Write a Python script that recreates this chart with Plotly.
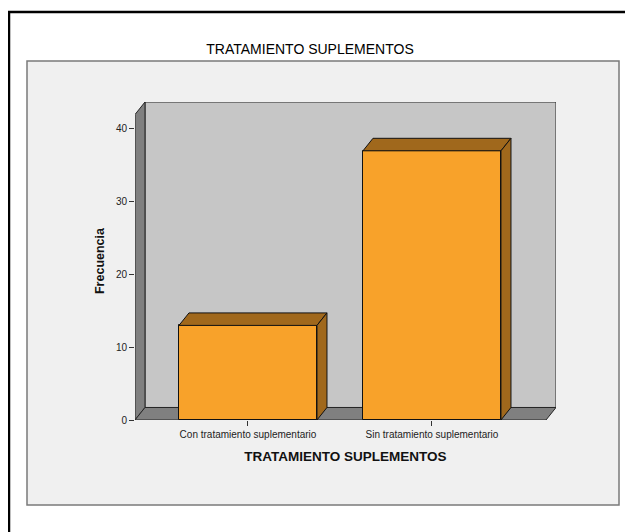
import plotly.graph_objects as go

# datos
categorias = ["Con tratamiento suplementario", "Sin tratamiento suplementario"]
frecuencias = [13, 37]
y_ticks = [0, 10, 20, 30, 40]

titulo = "TRATAMIENTO SUPLEMENTOS"
titulo_x = "TRATAMIENTO SUPLEMENTOS"
titulo_y = "Frecuencia"

# geometria: posiciones en pixeles de pantalla; la pagina tiene 8px de margen
W, H = 633, 532
OFF = 8
PL, PR, PT, PB = 135, 556, 102, 420
X_RANGE = [-0.614, 1.674]
Y_RANGE = [0, 43.71]
DX, DY = 0.0543, 1.72
BAR_W = 0.75

FRONT = "#F8A22A"
SIDE = "#A0681C"
WALL = "#808080"
BACK = "#C6C6C6"
EDGE = "#262626"
FONT = "Liberation Sans, Arial, sans-serif"


def px_x(p):
    return (p - PL) / (PR - PL)


def px_y(p):
    return (PB - p) / (PB - PT)


x0, x1 = X_RANGE[0], X_RANGE[1] - DX
ymax = Y_RANGE[1]
xs_cat = list(range(len(categorias)))

fig = go.Figure()

fig.add_trace(
    go.Bar(
        x=xs_cat,
        y=frecuencias,
        width=BAR_W,
        marker=dict(color=FRONT, line=dict(color="#111111", width=1)),
        hoverinfo="skip",
        showlegend=False,
    )
)

# caras superior y lateral de cada barra
tx, ty, sx, sy = [], [], [], []
for c, v in zip(xs_cat, frecuencias):
    a, b = c - BAR_W / 2, c + BAR_W / 2
    tx += [a, a + DX, b + DX, b, a, None]
    ty += [v, v + DY, v + DY, v, v, None]
    sx += [b, b + DX, b + DX, b, b, None]
    sy += [0, DY, v + DY, v, 0, None]

for fx, fy in ((tx, ty), (sx, sy)):
    fig.add_trace(
        go.Scatter(
            x=fx,
            y=fy,
            mode="lines",
            fill="toself",
            fillcolor=SIDE,
            line=dict(color="#111111", width=1),
            hoverinfo="skip",
            showlegend=False,
        )
    )

shapes = [
    # marco exterior
    dict(type="rect", xref="paper", yref="paper",
         x0=px_x(9), x1=px_x(660), y0=px_y(12), y1=px_y(560),
         line=dict(color="#000000", width=2.5), layer="below"),
    # panel gris
    dict(type="rect", xref="paper", yref="paper",
         x0=px_x(27), x1=px_x(619), y0=px_y(61), y1=px_y(505),
         fillcolor="#F0F0F0", line=dict(color="#7A7A7A", width=1.5), layer="below"),
    # pared de fondo
    dict(type="rect", xref="x", yref="y",
         x0=x0 + DX, x1=x1 + DX, y0=DY, y1=ymax,
         fillcolor=BACK, line=dict(color=EDGE, width=1), layer="below"),
    # pared izquierda
    dict(type="path", xref="x", yref="y",
         path=f"M {x0},0 L {x0},{ymax - DY} L {x0 + DX},{ymax} L {x0 + DX},{DY} Z",
         fillcolor=WALL, line=dict(color=EDGE, width=1), layer="below"),
    # suelo
    dict(type="path", xref="x", yref="y",
         path=f"M {x0},0 L {x1},0 L {x1 + DX},{DY} L {x0 + DX},{DY} Z",
         fillcolor=WALL, line=dict(color=EDGE, width=1), layer="below"),
]

fig.update_layout(
    width=W,
    height=H,
    margin=dict(l=PL - OFF, r=W - (PR - OFF), t=PT - OFF, b=H - (PB - OFF)),
    paper_bgcolor="#FFFFFF",
    plot_bgcolor="rgba(0,0,0,0)",
    font=dict(family=FONT, color="#222222"),
    shapes=shapes,
    title=dict(
        text=titulo,
        font=dict(size=14, color="#000000"),
        x=(310 - OFF) / W, xref="container", xanchor="center",
        y=1 - (49 - OFF) / H, yref="container", yanchor="middle",
    ),
    xaxis=dict(
        range=X_RANGE,
        tickvals=xs_cat,
        ticktext=categorias,
        ticks="outside",
        ticklen=5,
        tickcolor="#333333",
        tickfont=dict(size=10, color="#222222"),
        showgrid=False,
        zeroline=False,
        showline=False,
        title=dict(text=f"<b>{titulo_x}</b>", font=dict(size=13.5, color="#111111"), standoff=12),
    ),
    yaxis=dict(
        range=Y_RANGE,
        tickvals=y_ticks,
        ticks="outside",
        ticklen=5,
        tickcolor="#333333",
        tickfont=dict(size=10, color="#222222"),
        showgrid=False,
        zeroline=False,
        showline=False,
        title=dict(text=f"<b>{titulo_y}</b>", font=dict(size=12.5, color="#111111"), standoff=8),
    ),
    bargap=0,
)

fig.write_html("out.html")
